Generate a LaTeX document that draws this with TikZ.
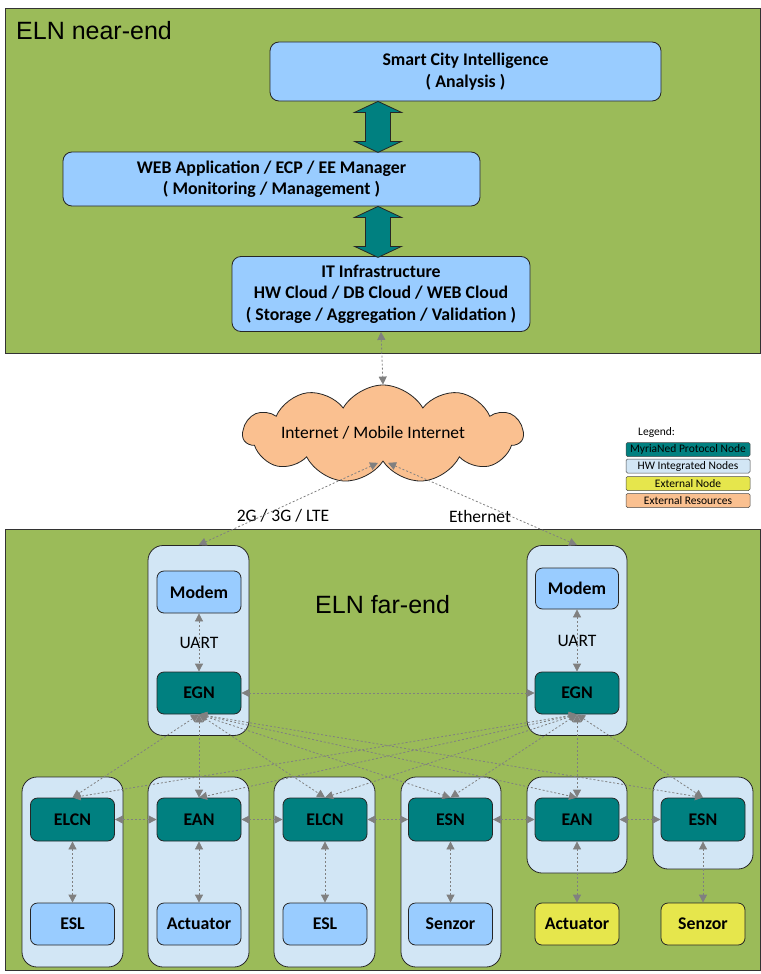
\documentclass[tikz,border=0pt]{standalone}
\usepackage{fontspec}
\setmainfont{Carlito}
\newfontfamily\arialf{Liberation Sans}
\usetikzlibrary{shapes.symbols,arrows.meta,calc}
\definecolor{panelgreen}{HTML}{9BBB59}
\definecolor{boxblue}{HTML}{99CCFF}
\definecolor{contblue}{HTML}{D2E6F5}
\definecolor{tealbox}{HTML}{008080}
\definecolor{yelbox}{HTML}{E6E64C}
\definecolor{peach}{HTML}{FAC090}
\definecolor{linegray}{HTML}{808080}
\tikzset{
  panel/.style={draw=black!80, line width=0.8pt, fill=panelgreen},
  boxbase/.style={draw=black!85, line width=0.8pt, rounded corners=7pt, align=center, inner sep=0pt,
    font=\fontsize{17.8}{21.5}\selectfont\bfseries},
  bigbox/.style={boxbase, fill=boxblue, rounded corners=9pt},
  smallbox/.style={boxbase, minimum width=84pt, minimum height=42pt},
  bluenode/.style={smallbox, fill=boxblue},
  tealnode/.style={smallbox, fill=tealbox},
  yelnode/.style={smallbox, fill=yelbox},
  contbox/.style={draw=black!85, line width=0.8pt, fill=contblue, rounded corners=15pt,
    minimum width=101pt, inner sep=0pt},
  legbox/.style={draw=black!70, line width=0.5pt, rounded corners=1.5pt, minimum width=124pt,
    minimum height=14pt, inner sep=0pt, font=\fontsize{11.5}{12}\selectfont},
  plain/.style={font=\fontsize{17.5}{21}\selectfont, inner sep=0pt},
  conn/.style={draw=linegray, line width=0.8pt, dash pattern=on 2pt off 2pt,
    {Triangle[length=8pt,width=8pt]}-{Triangle[length=8pt,width=8pt]}},
  wide/.style={draw=black!85, line width=0.8pt, fill=tealbox}
}
\begin{document}
\begin{tikzpicture}[x=1pt,y=-1pt]
\useasboundingbox (0,0) rectangle (760,974);
\fill[white] (0,0) rectangle (760,974);
% panels
\draw[panel] (5,8) rectangle (760,353);
\draw[panel] (5,529) rectangle (760,970);
\node[anchor=base west, inner sep=0pt, font=\arialf\fontsize{25}{28}\selectfont] (tnear) at (16,40) {ELN near-end};
\node[anchor=base west, inner sep=0pt, font=\arialf\fontsize{25}{28}\selectfont] (tfar) at (315,613) {ELN far-end};

% near-end boxes
\node[bigbox, minimum width=391pt, minimum height=59pt] (sci) at (465.5,71.5) {Smart City Intelligence\\( Analysis )};
\node[bigbox, minimum width=417pt, minimum height=54pt] (web) at (271.5,179) {WEB Application / ECP / EE Manager\\( Monitoring / Management )};
\node[bigbox, minimum width=298pt, minimum height=75pt] (it) at (381,294) {IT Infrastructure\\HW Cloud / DB Cloud / WEB Cloud\\( Storage / Aggregation / Validation )};
\coordinate (ax) at (378,0);
\draw[wide] (sci.south -| ax) -- ++(23.5,11) -- ++(-11,0) -- ++(0,29) -- ++(11,0) -- ++(-23.5,11)
  -- ++(-23.5,-11) -- ++(11,0) -- ++(0,-29) -- ++(-11,0) -- cycle;
\draw[wide] (web.south -| ax) -- ++(23.5,11) -- ++(-11,0) -- ++(0,29) -- ++(11,0) -- ++(-23.5,11)
  -- ++(-23.5,-11) -- ++(11,0) -- ++(0,-29) -- ++(-11,0) -- cycle;

% cloud
\node[cloud, cloud puffs=11, cloud puff arc=120, cloud ignores aspect, draw=black!85, line width=0.8pt,
  fill=peach, minimum width=280pt, minimum height=98pt, inner sep=0pt]
  (cloud) at (383,434) {};
\node[plain] (inet) at (373,433) {Internet / Mobile Internet};

% legend
\node[inner sep=0pt, anchor=west, font=\fontsize{11.5}{12}\selectfont] (legt) at (638,432) {Legend:};
\node[legbox, fill=tealbox] (lg1) at (688,449.5) {MyriaNed Protocol Node};
\node[legbox, fill=contblue] (lg2) at (688,466) {HW Integrated Nodes};
\node[legbox, fill=yelbox] (lg3) at (688,483.5) {External Node};
\node[legbox, fill=peach] (lg4) at (688,500.5) {External Resources};

% EGN containers
\node[contbox, minimum height=190pt] (lcont) at (198.5,640.5) {};
\node[contbox, minimum height=190pt, minimum width=100pt] (rcont) at (577,640.5) {};
\node[bluenode] (lmodem) at (199,592) {Modem};
\node[tealnode] (legn) at (199,693) {EGN};
\node[bluenode, minimum width=83pt, minimum height=41pt] (rmodem) at (577,588.5) {Modem};
\node[tealnode] (regn) at (577,693) {EGN};

% bottom containers
\node[contbox, minimum height=190pt] (c1) at (72.5,872) {};
\node[contbox, minimum height=190pt] (c2) at (198.5,872) {};
\node[contbox, minimum height=190pt] (c3) at (324.5,872) {};
\node[contbox, minimum height=190pt, minimum width=100pt] (c4) at (451,872) {};
\node[contbox, minimum height=96pt, minimum width=100pt] (c5) at (577,825) {};
\node[contbox, minimum height=92pt, minimum width=100pt] (c6) at (703,823) {};

\node[tealnode, minimum height=43pt] (n1) at (72.5,819.5) {ELCN};
\node[tealnode, minimum height=43pt] (n2) at (199,819.5) {EAN};
\node[tealnode, minimum height=43pt] (n3) at (325,819.5) {ELCN};
\node[tealnode, minimum height=43pt] (n4) at (450.5,819.5) {ESN};
\node[tealnode, minimum height=43pt] (n5) at (577,819.5) {EAN};
\node[tealnode, minimum height=43pt] (n6) at (703,819.5) {ESN};

\node[bluenode] (b1) at (72.5,924) {ESL};
\node[bluenode] (b2) at (199,924) {Actuator};
\node[bluenode] (b3) at (325,924) {ESL};
\node[bluenode] (b4) at (450.5,924) {Senzor};
\node[yelnode] (b5) at (577,924) {Actuator};
\node[yelnode] (b6) at (703,924) {Senzor};

% labels
\node[plain] (uartl) at (199,643) {UART};
\node[plain] (uartr) at (577,641) {UART};
\node[plain] (lte) at (283,516) {2G / 3G / LTE};
\node[plain] (eth) at (480,516) {Ethernet};

% connectors
\draw[conn] (it.south) -- (cloud.north);
\coordinate (cl) at ($(cloud.south)+(-5,1)$);
\coordinate (cr) at ($(cloud.south)+(5,1)$);
\draw[conn] (cl) -- (lcont.north);
\draw[conn] (cr) -- (rcont.north);
\draw[conn] (lmodem) -- (legn);
\draw[conn] (rmodem) -- (regn);
\draw[conn] (legn) -- (regn);
\foreach \n in {n1,n2,n3,n4,n5,n6} {
  \draw[conn] (legn.south) -- (\n.north);
  \draw[conn] (regn.south) -- (\n.north);
}
\draw[conn] (n1) -- (n2);
\draw[conn] (n2) -- (n3);
\draw[conn] (n3) -- (n4);
\draw[conn] (n4) -- (n5);
\draw[conn] (n5) -- (n6);
\draw[conn] (n1) -- (b1);
\draw[conn] (n2) -- (b2);
\draw[conn] (n3) -- (b3);
\draw[conn] (n4) -- (b4);
\draw[conn] (n5) -- (b5);
\draw[conn] (n6) -- (b6);
\end{tikzpicture}
\end{document}
